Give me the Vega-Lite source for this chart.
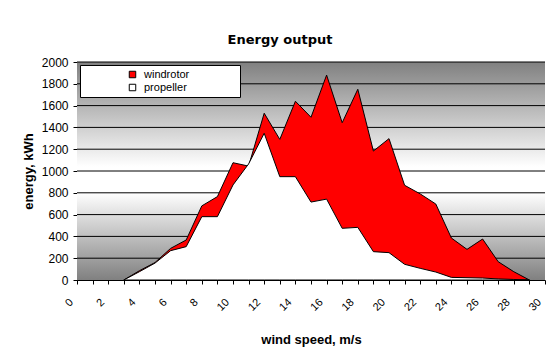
{
  "$schema": "https://vega.github.io/schema/vega-lite/v6.json",
  "width": 468,
  "height": 218,
  "autosize": {"type": "none"},
  "padding": {"left": 77, "top": 62, "right": 15, "bottom": 74},
  "background": "white",
  "title": {"text": "Energy output", "font": "DejaVu Sans", "fontSize": 13, "fontWeight": "bold", "anchor": "middle", "frame": "group", "dx": -31, "offset": 9, "color": "black"},
  "datasets": {
    "energy": [
      {"speed": 3, "kWh": 0, "rotor": "windrotor"},
      {"speed": 4, "kWh": 85, "rotor": "windrotor"},
      {"speed": 5, "kWh": 160, "rotor": "windrotor"},
      {"speed": 6, "kWh": 290, "rotor": "windrotor"},
      {"speed": 7, "kWh": 367, "rotor": "windrotor"},
      {"speed": 8, "kWh": 680, "rotor": "windrotor"},
      {"speed": 9, "kWh": 765, "rotor": "windrotor"},
      {"speed": 10, "kWh": 1076, "rotor": "windrotor"},
      {"speed": 11, "kWh": 1045, "rotor": "windrotor"},
      {"speed": 12, "kWh": 1530, "rotor": "windrotor"},
      {"speed": 13, "kWh": 1290, "rotor": "windrotor"},
      {"speed": 14, "kWh": 1640, "rotor": "windrotor"},
      {"speed": 15, "kWh": 1493, "rotor": "windrotor"},
      {"speed": 16, "kWh": 1880, "rotor": "windrotor"},
      {"speed": 17, "kWh": 1443, "rotor": "windrotor"},
      {"speed": 18, "kWh": 1750, "rotor": "windrotor"},
      {"speed": 19, "kWh": 1183, "rotor": "windrotor"},
      {"speed": 20, "kWh": 1297, "rotor": "windrotor"},
      {"speed": 21, "kWh": 869, "rotor": "windrotor"},
      {"speed": 22, "kWh": 790, "rotor": "windrotor"},
      {"speed": 23, "kWh": 697, "rotor": "windrotor"},
      {"speed": 24, "kWh": 385, "rotor": "windrotor"},
      {"speed": 25, "kWh": 281, "rotor": "windrotor"},
      {"speed": 26, "kWh": 376, "rotor": "windrotor"},
      {"speed": 27, "kWh": 168, "rotor": "windrotor"},
      {"speed": 28, "kWh": 76, "rotor": "windrotor"},
      {"speed": 29, "kWh": 0, "rotor": "windrotor"},
      {"speed": 3, "kWh": 0, "rotor": "propeller"},
      {"speed": 4, "kWh": 76, "rotor": "propeller"},
      {"speed": 5, "kWh": 155, "rotor": "propeller"},
      {"speed": 6, "kWh": 269, "rotor": "propeller"},
      {"speed": 7, "kWh": 306, "rotor": "propeller"},
      {"speed": 8, "kWh": 581, "rotor": "propeller"},
      {"speed": 9, "kWh": 581, "rotor": "propeller"},
      {"speed": 10, "kWh": 872, "rotor": "propeller"},
      {"speed": 11, "kWh": 1065, "rotor": "propeller"},
      {"speed": 12, "kWh": 1346, "rotor": "propeller"},
      {"speed": 13, "kWh": 948, "rotor": "propeller"},
      {"speed": 14, "kWh": 948, "rotor": "propeller"},
      {"speed": 15, "kWh": 715, "rotor": "propeller"},
      {"speed": 16, "kWh": 742, "rotor": "propeller"},
      {"speed": 17, "kWh": 474, "rotor": "propeller"},
      {"speed": 18, "kWh": 483, "rotor": "propeller"},
      {"speed": 19, "kWh": 260, "rotor": "propeller"},
      {"speed": 20, "kWh": 251, "rotor": "propeller"},
      {"speed": 21, "kWh": 144, "rotor": "propeller"},
      {"speed": 22, "kWh": 107, "rotor": "propeller"},
      {"speed": 23, "kWh": 73, "rotor": "propeller"},
      {"speed": 24, "kWh": 24, "rotor": "propeller"},
      {"speed": 25, "kWh": 21, "rotor": "propeller"},
      {"speed": 26, "kWh": 18, "rotor": "propeller"},
      {"speed": 27, "kWh": 10, "rotor": "propeller"},
      {"speed": 28, "kWh": 5, "rotor": "propeller"},
      {"speed": 29, "kWh": 0, "rotor": "propeller"}
    ],
    "grid": [
      {"kWh": 200}, {"kWh": 400}, {"kWh": 600}, {"kWh": 800}, {"kWh": 1000},
      {"kWh": 1200}, {"kWh": 1400}, {"kWh": 1600}, {"kWh": 1800}, {"kWh": 2000}
    ]
  },
  "layer": [
    {
      "data": {"values": [{"bg": 1}]},
      "mark": {"type": "rect", "color": {"gradient": "linear", "x1": 0, "y1": 0, "x2": 0, "y2": 1, "stops": [
        {"offset": 0, "color": "#808080"},
        {"offset": 0.48, "color": "#ffffff"},
        {"offset": 0.6, "color": "#ffffff"},
        {"offset": 1, "color": "#808080"}
      ]}},
      "encoding": {
        "x": {"datum": 0, "type": "quantitative", "title": "wind speed, m/s",
          "scale": {"domain": [0, 30], "nice": false},
          "axis": {
            "values": [0,1,2,3,4,5,6,7,8,9,10,11,12,13,14,15,16,17,18,19,20,21,22,23,24,25,26,27,28,29,30],
            "labelExpr": "datum.value % 2 === 0 ? datum.label : ''",
            "labelOverlap": false, "labelOffset": -10
          }},
        "x2": {"datum": 30},
        "y": {"datum": 0, "type": "quantitative", "title": "energy, kWh",
          "scale": {"domain": [0, 2000], "nice": false},
          "axis": {"values": [0,200,400,600,800,1000,1200,1400,1600,1800,2000], "format": "d", "labelOverlap": false}},
        "y2": {"datum": 2000}
      }
    },
    {
      "data": {"name": "grid"},
      "mark": {"type": "rule", "color": "black", "strokeWidth": 1},
      "encoding": {
        "y": {"field": "kWh", "type": "quantitative", "title": "energy, kWh",
          "axis": {"values": [0,200,400,600,800,1000,1200,1400,1600,1800,2000], "format": "d", "labelOverlap": false}}
      }
    },
    {
      "data": {"name": "energy"},
      "transform": [{"filter": "datum.rotor === 'windrotor'"}],
      "mark": {"type": "area", "stroke": "black", "strokeWidth": 1, "fillOpacity": 1, "interpolate": "linear"},
      "encoding": {
        "x": {"field": "speed", "type": "quantitative", "title": "wind speed, m/s",
          "axis": {
            "values": [0,1,2,3,4,5,6,7,8,9,10,11,12,13,14,15,16,17,18,19,20,21,22,23,24,25,26,27,28,29,30],
            "labelExpr": "datum.value % 2 === 0 ? datum.label : ''",
            "labelOverlap": false, "labelOffset": -10
          }},
        "y": {"field": "kWh", "type": "quantitative", "stack": null, "title": "energy, kWh",
          "axis": {"values": [0,200,400,600,800,1000,1200,1400,1600,1800,2000], "format": "d", "labelOverlap": false}},
        "color": {"field": "rotor", "type": "nominal", "title": null,
          "scale": {"domain": ["windrotor", "propeller"], "range": ["#ff0000", "#ffffff"]},
          "legend": {
            "orient": "none", "legendX": 3, "legendY": 3,
            "fillColor": "white", "strokeColor": "black", "padding": 4,
            "symbolType": "square", "symbolSize": 42, "symbolStrokeColor": "black", "symbolStrokeWidth": 1, "symbolOffset": 43,
            "labelFont": "Liberation Sans", "labelFontSize": 11, "labelColor": "black", "labelOffset": 6,
            "rowPadding": 1, "labelLimit": 200,
            "labelExpr": "datum.label + '\u00a0\u00a0\u00a0\u00a0\u00a0\u00a0\u00a0\u00a0\u00a0\u00a0\u00a0\u00a0\u00a0\u00a0\u00a0\u200b'"
          }}
      }
    },
    {
      "data": {"name": "energy"},
      "transform": [{"filter": "datum.rotor === 'propeller'"}],
      "mark": {"type": "area", "stroke": "black", "strokeWidth": 1, "fillOpacity": 1, "interpolate": "linear"},
      "encoding": {
        "x": {"field": "speed", "type": "quantitative", "title": "wind speed, m/s",
          "axis": {
            "values": [0,1,2,3,4,5,6,7,8,9,10,11,12,13,14,15,16,17,18,19,20,21,22,23,24,25,26,27,28,29,30],
            "labelExpr": "datum.value % 2 === 0 ? datum.label : ''",
            "labelOverlap": false, "labelOffset": -10
          }},
        "y": {"field": "kWh", "type": "quantitative", "stack": null, "title": "energy, kWh",
          "axis": {"values": [0,200,400,600,800,1000,1200,1400,1600,1800,2000], "format": "d", "labelOverlap": false}},
        "color": {"field": "rotor", "type": "nominal", "title": null}
      }
    }
  ],
  "config": {
    "view": {"stroke": null},
    "axisX": {
      "grid": false, "domainColor": "black", "tickColor": "black", "tickSize": 4,
      "labelAngle": -45, "labelFont": "Liberation Sans", "labelFontSize": 11, "labelColor": "black",
      "labelPadding": 12, "labelOverlap": false, "labelBound": false, "labelFlush": false,
      "titleFont": "Liberation Sans", "titleFontSize": 13, "titleFontWeight": "bold", "titleColor": "black", "titlePadding": 21
    },
    "axisY": {
      "grid": false, "domainColor": "black", "tickColor": "black", "tickSize": 4,
      "labelFont": "Liberation Sans", "labelFontSize": 12, "labelColor": "black", "labelPadding": 5,
      "titleFont": "Liberation Sans", "titleFontSize": 13, "titleFontWeight": "bold", "titleColor": "black", "titlePadding": 6
    }
  }
}
